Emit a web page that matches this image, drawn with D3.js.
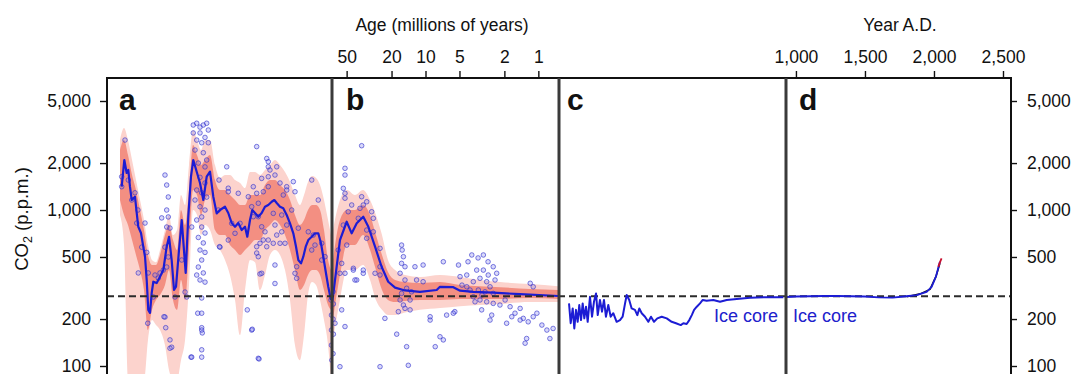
<!DOCTYPE html>
<html><head><meta charset="utf-8">
<script src="https://cdn.jsdelivr.net/npm/d3@7"></script>
<style>body{margin:0;background:#fff}svg{display:block}text{font-family:"Liberation Sans",Arial,Helvetica,sans-serif}</style>
</head><body><svg id="c" width="1074" height="374"></svg>
<script>
// ---------- DATA ----------
const yTicks = [100, 200, 500, 1000, 2000, 5000];
const ageTicks = [50, 20, 10, 5, 2, 1];
const yearTicks = [1000, 1500, 2000, 2500];
const panelLetters = ["a", "b", "c", "d"];
const preIndustrial = 280;

// Panel a: age (Ma) and CO2 (ppm) of the central estimate
const lineA_age = [415.6,411.2,407.3,404.6,401.8,398.9,393.5,390.6,388,383.5,379.7,376.8,374,371.4,368.5,365.7,363,357.4,351.9,346.4,340.8,336.9,332.5,328.6,325.3,320.3,315.8,312.5,309.2,304.9,300.4,296.6,290.9,285.4,279.9,274.3,268.8,263.3,257.7,252.2,243.9,238.4,232.7,227.2,221.8,216.1,210.6,206.8,202.3,198.5,194,188.5,182.9,177.4,171.9,166.2,161.9,157.9,152.4,147,141.3,135.8,130.3,125.8,122,117.5,113.7,109.7,105.4,99.7,94.3,88.8,84.3,80.5,76,72.2,67.7];
const lineA_co2 = [1411,2092,1727,1805,1411,1159,1217,957,781,712,582,502,356,229,219,294,347,340,374,412,582,674,478,307,322,554,863,582,395,906,1635,2092,1760,1490,1159,1635,1760,1217,952,1000,1050,957,825,781,825,744,781,674,863,1000,957,906,957,1050,1077,1130,1159,1109,1050,1025,929,822,709,582,478,455,502,582,642,674,709,709,612,502,393,322,265];

// Panel a: uncertainty bands
const bandA_age = [418.4,411.7,405.1,398.4,391.8,385.1,378.5,371.9,365.2,358.6,351.9,343.6,336.9,330.3,323.6,317.0,310.3,303.7,297.0,290.4,283.7,277.1,268.8,260.5,252.2,243.9,235.6,227.2,218.9,210.6,202.3,194.0,185.7,177.4,169.1,160.8,152.4,144.1,135.8,127.5,119.2,112.5,105.9,99.2,92.6,85.9,79.3,72.6,67.7];
const bandA_outHi = [2809,3354,2809,2092,1557,1159,863,596,478,463,554,744,929,691,744,1248,1077,1943,3258,2809,2424,2809,2809,1943,1605,1676,1676,1557,1492,1385,1752,1752,1676,1805,1943,2092,1943,1752,1515,1248,1077,1248,1515,1650,1605,1446,1159,863,691];
const bandA_outLo = [929,596,81,81,81,81,81,147,197,183,170,136,94,81,81,109,147,330,1000,929,691,801,744,596,554,478,383,265,158,307,478,463,307,383,515,554,515,412,265,136,109,158,285,345,330,265,197,136,81];
const bandA_inHi = [2424,2809,2251,1676,1343,1000,744,515,444,444,515,691,801,642,554,1000,801,1343,2611,2251,1943,2092,2251,1557,1343,1343,1248,1159,1077,1077,1248,1248,1248,1446,1557,1557,1446,1343,1159,929,801,863,1000,1077,1077,1000,744,478,412];
const bandA_inLo = [1159,929,801,642,515,412,307,170,229,265,285,330,412,265,229,356,265,554,1343,1248,929,1159,1248,744,691,691,596,554,515,554,596,642,642,744,801,863,801,691,554,412,307,330,383,412,412,383,307,246,229];

// Panel a: proxy data points [age Ma, ppm]
const ptsA = [[410.1,2809],[415.6,1635],[415.6,1411],[404.6,1557],[398.9,1159],[393.5,1290],[388.5,1000],[390.6,825],[376.8,825],[382.3,578],[374,535],[388,395],[371.4,395],[372.3,188],[363,277],[360.2,383],[354.7,366],[351.9,395],[346.4,412],[343.6,206],[342.4,176],[343.6,1676],[340.8,1446],[338.1,1212],[340.8,1000],[338.1,903],[349.1,890],[340.8,778],[335.3,766],[343.6,578],[338.1,500],[340.8,431],[332.5,132],[335.3,147],[327,277],[315.8,478],[310.3,298],[307.5,277],[300.4,114],
[296.6,3507],[290.9,3600],[285.4,3400],[279.9,3507],[274.3,3600],[271.6,3258],[296.6,3120],[285.4,3120],[277.1,2920],[290.9,2809],[282.6,2700],[271.6,2700],[293.7,2424],[279.9,2330],[274.3,2092],[288.2,2000],[277.1,1890],[285.4,1620],[277.1,1490],[290.9,1343],[282.6,1290],[274.3,1210],[293.7,1159],[285.4,1050],[277.1,1000],[282.6,903],[290.9,863],[299.2,778],[282.6,778],[277.1,712],[288.2,667],[279.9,615],[285.4,554],[277.1,535],[282.6,478],[288.2,431],[279.9,395],[285.4,356],[277.1,345],[290.9,383],[282.6,273],[289.2,218],[282.6,218],[282.6,176],[281.6,163],[282.6,127],[282.6,114],[299.2,114],[255,1000],[252.2,578],
[191.2,2550],[241,1893],[253.8,1557],[238.4,1380],[238.4,1310],[221.8,1280],[205.1,1217],[191.2,1280],[196.8,1411],[182.9,1595],[174.5,2140],[171.9,2040],[171.9,1893],[169.1,1805],[157.9,1893],[160.8,1676],[171.9,1635],[152.4,1490],[141.3,1411],[130.3,1520],[127.5,1310],[141.3,1343],[147,1248],[171.9,1411],[180.2,1310],[188.5,1105],[199.5,1050],[196.8,906],[188.5,906],[182.9,781],[177.4,725],[171.9,642],[180.2,642],[185.7,612],[191.2,582],[174.5,582],[163.6,612],[152.4,612],[144.1,612],[157.9,691],[149.6,725],[141.3,801],[160.8,801],[163.6,952],[149.6,929],[133,1000],[122,765],[99.7,1557],[88.8,1159],[238.4,642],[227.2,709],[253,582],[232.7,822],[218.9,822],[191.2,530],[188.5,502],[182.9,393],[160.8,444],[127.5,393],[124.7,365],[124.7,433],[105.4,725],[97.1,691],[94.3,596],[99.7,554],[206.8,229],[199.5,170],[188.5,112],[83.1,612],[77.6,502],[83.1,478],
[345.3,207],[335.3,130],[282.6,170],[198.5,172],[187.3,111],[160.8,338],[185.7,389],[67.7,265],[66.9,212],[66.9,170],[66.9,136],[66.3,109]];

// Panel b (Cenozoic, log age)
const lineB_age = [66.8,57.3,49.95,45.1,40.7,35.6,32.1,28.0,24.5,21.4,18.6,15.2,11.2,7.96,7.44,5.67,4.94,3.77,2.51,1.45,0.665];
const lineB_co2 = [262,642,841,709,822,906,781,582,433,347,318,305,299,307,322,320,304,299,295,289,281];
const bandB_age = [66.1,57.3,49.6,42.2,35.8,31.0,27.5,24.3,21.5,18.6,15.2,11.2,7.43,4.94,3.29,2.18,1.18,0.668];
const bandB_outHi = [744,1159,1343,1248,1343,1159,929,691,478,412,383,372,383,372,356,345,335,325];
const bandB_outLo = [147,265,412,412,444,356,265,229,212,212,220,229,235,242,246,250,257,257];
const bandB_inHi = [478,863,1000,1000,1077,929,691,515,401,356,345,340,345,330,325,320,312,307];
const bandB_inLo = [197,383,596,596,691,554,412,307,265,257,261,265,265,269,269,269,273,269];
const ptsB = [[36.8,2584],[51.7,1851],[51.7,1676],[53.5,1377],[51.7,1280],[51.7,1190],[36.8,1217],[33.2,1130],[35.6,1077],[45.1,1077],[38.1,1025],[30.0,975],[48.4,975],[53.5,801],[39.4,885],[29.0,885],[33.2,744],[29.0,725],[33.2,659],[49.9,596],[59.3,554],[25.3,568],[55.3,455],[43.6,423],[35.6,393],[51.7,393],[40.7,356],[25.3,433],[28.0,393],[25.3,383],[55.3,229],[51.7,179],[22.9,202],[18.0,160],[14.7,133],[14.2,101],[16.3,596],[16.1,554],[15.7,502],[16.3,455],[15.2,433],[16.8,393],[15.2,356],[12.4,433],[10.5,444],[57.3,99],[63.4,188],[16.8,265],[15.7,246],[15.2,234],[13.7,229],[17.4,223],[16.3,292],[14.7,315],[13.3,299],[13.7,265],[12.0,356],[10.5,347],[9.1,197],[8.2,133],[6.95,147],[6.5,212],[5.5,223],[6.95,466],[5.1,444],[4.94,374],[4.31,383],[3.89,515],[3.07,515],[3.52,412],[3.07,412],[2.78,383],[2.51,433],[2.34,393],[3.29,365],[2.87,347],[3.77,347],[4.31,322],[3.40,307],[2.97,299],[2.68,322],[2.51,292],[3.77,278],[3.29,265],[2.87,258],[2.51,252],[2.19,246],[1.97,265],[1.78,240],[1.61,218],[1.45,234],[1.36,202],[1.23,192],[1.11,207],[1.27,150],[1.31,140],[1.18,339],[1.11,322],[1.03,218],[0.93,183],[0.84,170],[0.79,150],[0.74,174],[2.68,197],[2.59,212],[3.18,229],[5.67,218],[9.1,207],[7.44,154],[1.91,188],[1.72,207],[1.45,197],[57.3,393],[43.6,412],[35.6,412],[42.2,356],[25.3,99],[4.2,466],[3.42,493],[2.79,466],[2.42,356],[4.03,307],[3.16,285],[4.75,330],[3.64,258],[66,300],[65.5,250],[66,200],[65.5,160],[66,120]];

// Panel c: ice core (kyr BP, log)
const iceC_kyr = [804,763,716,681,646,613,583,552,524,498,472,448,417,391,368,345,327,305,286,269,253,235,218,201,181,163,150,139,132,122,113,102,94.7,89,82.5,74.4,67.1,61.7,56.2,50.6,44.1,37.7,32.3,28.2,24.3,22.4,20.2,18.6,17.2,16.0,14.7,13.3,12.2,10.8,8.77,7.11,5.76,4.21,2.78,1.65,0.98];
const iceC_co2 = [252,188,234,174,229,192,246,197,252,202,240,192,278,207,258,292,212,265,223,265,207,246,207,218,192,197,207,252,285,265,234,229,212,234,218,207,192,207,192,202,207,202,192,188,183,188,186,197,212,229,240,252,265,262,265,258,265,269,274,276,276];

// Panel d: year AD
const iceD_year = [930,1000,1100,1200,1300,1400,1500,1600,1700,1800,1875,1947,1983,2014,2043];
const iceD_co2  = [277,279,280,281,281,280,279,275,274,280,285,299,322,374,466];
const obsD_year = [1802,1900,1971,2014,2043];
const obsD_co2  = [278,290,310,374,455];
const projD_year = [2031,2043,2055];
const projD_co2  = [433,462,490];
const iceLabel = "Ice core";

// ---------- LAYOUT ----------
const svg = d3.select("#c");
const T = 78, B = 430;
const PA = [107, 332], PB = [332, 559], PC = [559, 786], PD = [786, 1011];
const y = d3.scaleLog().domain([100, 5000]).range([366, 101]);
const xA = d3.scaleLinear().domain([440, 66]).range(PA);
const xB = d3.scaleLog().domain([67.4, 0.656]).range(PB);
const xC = d3.scaleLog().domain([1100, 0.9]).range(PC);
const xD = d3.scaleLinear().domain([928, 2558]).range(PD);

const defs = svg.append("defs");
[["ca", PA], ["cb", PB], ["cc", PC], ["cd", PD]].forEach(([id, r]) => {
  defs.append("clipPath").attr("id", id).append("rect")
    .attr("x", r[0]).attr("y", T).attr("width", r[1] - r[0]).attr("height", B - T);
});

const OUT = "#fcd3cd", IN = "#f2877a", BLUE = "#1c1cd4";

function bands(g, x, ages, oLo, oHi, iLo, iHi) {
  const rows = ages.map((a, i) => ({a, oLo: oLo[i], oHi: oHi[i], iLo: iLo[i], iHi: iHi[i]}));
  g.append("path").datum(rows).attr("fill", OUT)
    .attr("d", d3.area().curve(d3.curveMonotoneX).x(d => x(d.a)).y0(d => y(d.oLo)).y1(d => y(d.oHi)));
  g.append("path").datum(rows).attr("fill", IN).attr("fill-opacity", 0.9)
    .attr("d", d3.area().curve(d3.curveMonotoneX).x(d => x(d.a)).y0(d => y(d.iLo)).y1(d => y(d.iHi)));
}
function points(g, x, pts) {
  g.selectAll("circle.p").data(pts).join("circle").attr("class", "p")
    .attr("cx", d => x(d[0])).attr("cy", d => y(d[1])).attr("r", 2.3)
    .attr("fill", "#8080ee").attr("fill-opacity", 0.3)
    .attr("stroke", "#3232cc").attr("stroke-opacity", 0.7).attr("stroke-width", 0.9);
}
function line(g, x, xs, ys, color, w) {
  g.append("path").datum(xs.map((v, i) => [v, ys[i]])).attr("fill", "none")
    .attr("stroke", color).attr("stroke-width", w).attr("stroke-linejoin", "round")
    .attr("d", d3.line().x(d => x(d[0])).y(d => y(d[1])));
}

const gA = svg.append("g").attr("clip-path", "url(#ca)");
bands(gA, xA, bandA_age, bandA_outLo, bandA_outHi, bandA_inLo, bandA_inHi);
const gB = svg.append("g").attr("clip-path", "url(#cb)");
bands(gB, xB, bandB_age, bandB_outLo, bandB_outHi, bandB_inLo, bandB_inHi);

// dashed pre-industrial line
svg.append("line").attr("x1", PA[0]).attr("x2", PD[1]).attr("y1", y(preIndustrial)).attr("y2", y(preIndustrial))
  .attr("stroke", "#2b2b2b").attr("stroke-width", 2).attr("stroke-dasharray", "7,4");

points(gA, xA, ptsA);
points(gB, xB, ptsB);
line(gA, xA, lineA_age, lineA_co2, BLUE, 2.2);
line(gB, xB, lineB_age, lineB_co2, BLUE, 2.2);
const gC = svg.append("g").attr("clip-path", "url(#cc)");
line(gC, xC, iceC_kyr, iceC_co2, BLUE, 2);
const gD = svg.append("g").attr("clip-path", "url(#cd)");
line(gD, xD, obsD_year, obsD_co2, "#111", 1.6);
line(gD, xD, iceD_year, iceD_co2, BLUE, 1.8);
line(gD, xD, projD_year, projD_co2, "#c8102e", 1.8);

// Ice core labels
svg.append("text").attr("x", xC(8.6)).attr("y", 322).attr("font-size", 18).attr("fill", "#2020cc").text(iceLabel);
svg.append("text").attr("x", xD(978)).attr("y", 322).attr("font-size", 18).attr("fill", "#2020cc").text(iceLabel);

// frame
const fr = svg.append("g");
fr.append("line").attr("x1", PA[0]).attr("x2", PD[1]).attr("y1", T).attr("y2", T).attr("stroke", "#111").attr("stroke-width", 2);
fr.append("line").attr("x1", PA[0]).attr("x2", PA[0]).attr("y1", T - 1).attr("y2", B).attr("stroke", "#111").attr("stroke-width", 2);
fr.append("line").attr("x1", PD[1]).attr("x2", PD[1]).attr("y1", T - 1).attr("y2", B).attr("stroke", "#111").attr("stroke-width", 2);
[PB[0], PC[0], PD[0]].forEach(xx => fr.append("line").attr("x1", xx).attr("x2", xx).attr("y1", T).attr("y2", B)
  .attr("stroke", "#3a3a3a").attr("stroke-width", 3));

// axes
const FS = 17.5;
function style(g) {
  g.select(".domain").remove();
  g.selectAll(".tick line").attr("stroke", "#111").attr("stroke-width", 1.4);
  g.selectAll(".tick text").attr("font-size", FS).attr("fill", "#111").attr("font-family", '"Liberation Sans",Arial,sans-serif');
}
svg.append("g").attr("transform", `translate(${PA[0]},0)`)
  .call(d3.axisLeft(y).tickValues(yTicks).tickFormat(d3.format(",")).tickSize(7).tickPadding(9)).call(style);
svg.append("g").attr("transform", `translate(${PD[1]},0)`)
  .call(d3.axisRight(y).tickValues(yTicks).tickFormat(d3.format(",")).tickSize(6).tickPadding(10)).call(style);
svg.append("g").attr("transform", `translate(0,${T})`)
  .call(d3.axisTop(xB).tickValues(ageTicks).tickFormat(d3.format("d")).tickSize(7).tickPadding(8)).call(style);
svg.append("g").attr("transform", `translate(0,${T})`)
  .call(d3.axisTop(xD).tickValues(yearTicks).tickFormat(d3.format(",")).tickSize(7).tickPadding(8)).call(style);

// titles
svg.append("text").attr("x", 442).attr("y", 31).attr("text-anchor", "middle").attr("font-size", FS).attr("fill", "#111").text("Age (millions of years)");
svg.append("text").attr("x", 900).attr("y", 31).attr("text-anchor", "middle").attr("font-size", FS).attr("fill", "#111").text("Year A.D.");
const yl = svg.append("text").attr("transform", "translate(28,219) rotate(-90)").attr("text-anchor", "middle")
  .attr("font-size", 18.5).attr("fill", "#111");
yl.append("tspan").text("CO");
yl.append("tspan").attr("font-size", 12.5).attr("dy", 4).text("2");
yl.append("tspan").attr("dy", -4).text(" (p.p.m.)");

// panel letters
const letterX = [PA[0] + 12, PB[0] + 14, PC[0] + 8, PD[0] + 13];
panelLetters.forEach((l, i) => svg.append("text").attr("x", letterX[i]).attr("y", 110)
  .attr("font-size", 30).attr("font-weight", "bold").attr("fill", "#111").text(l));
</script></body></html>
